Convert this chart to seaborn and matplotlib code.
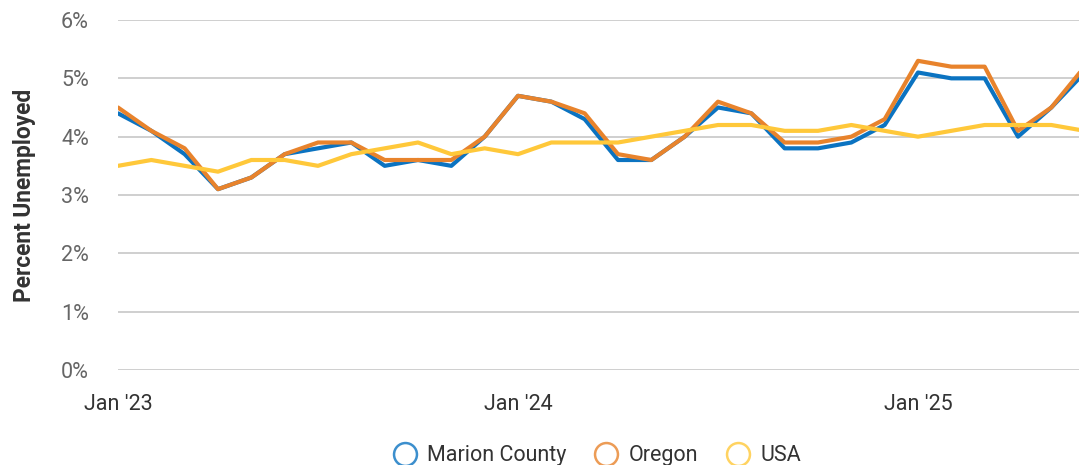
import matplotlib
matplotlib.use("Agg")
import matplotlib.pyplot as plt
import seaborn as sns
import pandas as pd
import numpy as np
from matplotlib.lines import Line2D

# ---- data ----
month_labels = ["Jan '23", "Jan '24", "Jan '25"]
month_tick_pos = [0, 12, 24]
months = list(range(30))

marion = [4.4, 4.1, 3.7, 3.1, 3.3, 3.7, 3.8, 3.9, 3.5, 3.6, 3.5, 4.0,
          4.7, 4.6, 4.3, 3.6, 3.6, 4.0, 4.5, 4.4, 3.8, 3.8, 3.9, 4.2,
          5.1, 5.0, 5.0, 4.0, 4.5, 5.1]
oregon = [4.5, 4.1, 3.8, 3.1, 3.3, 3.7, 3.9, 3.9, 3.6, 3.6, 3.6, 4.0,
          4.7, 4.6, 4.4, 3.7, 3.6, 4.0, 4.6, 4.4, 3.9, 3.9, 4.0, 4.3,
          5.3, 5.2, 5.2, 4.1, 4.5, 5.2]
usa = [3.5, 3.6, 3.5, 3.4, 3.6, 3.6, 3.5, 3.7, 3.8, 3.9, 3.7, 3.8,
       3.7, 3.9, 3.9, 3.9, 4.0, 4.1, 4.2, 4.2, 4.1, 4.1, 4.2, 4.1,
       4.0, 4.1, 4.2, 4.2, 4.2, 4.1]
series_names = ["Marion County", "Oregon", "USA"]
colors = ["#0b73c1", "#e8832c", "#ffc83a"]
y_ticks = [0, 1, 2, 3, 4, 5, 6]

df = pd.concat([
    pd.DataFrame({"month": months, "value": vals, "series": name})
    for name, vals in zip(series_names, [marion, oregon, usa])
], ignore_index=True)

sns.set_theme(style="white")
plt.rcParams["font.family"] = ["Roboto", "DejaVu Sans"]

fig = plt.figure(figsize=(10.79, 4.65), dpi=100)
ax = fig.add_axes([118 / 1079, 1 - 370 / 465, 1 - 118 / 1079, (370 - 20) / 465])

sns.lineplot(data=df, x="month", y="value", hue="series", hue_order=series_names,
             palette=colors, linewidth=3.0, ax=ax, legend=False, clip_on=True)

ax.set_xlim(0, (1079 - 118) / (400 / 12))
ax.set_ylim(0, 6)
ax.set_yticks(y_ticks)
ax.set_yticklabels([f"{t}%" for t in y_ticks])
ax.set_xticks(month_tick_pos)
ax.set_xticklabels(month_labels)
ax.grid(axis="y", color="#cccccc", linewidth=1.3)
ax.grid(axis="x", visible=False)
ax.set_axisbelow(True)
for s in ax.spines.values():
    s.set_visible(False)
ax.tick_params(axis="y", length=0, pad=21, labelsize=15.5, labelcolor="#666666")
ax.tick_params(axis="x", length=0, pad=17, labelsize=15.5, labelcolor="#333333")
ax.set_xlabel("")
ax.set_ylabel("Percent Unemployed", fontsize=16.4, fontweight="bold", color="#333333", labelpad=18)

handles = [Line2D([], [], linestyle="none", marker="o", markersize=16.5,
                  markerfacecolor="white", markeredgecolor=c, markeredgewidth=1.8, alpha=0.8)
           for c in colors]
leg = fig.legend(handles, series_names, loc="lower center", bbox_to_anchor=(0.553, -0.044),
                 ncol=3, frameon=False, fontsize=15.5, handletextpad=0.45, columnspacing=1.25,
                 handlelength=1.2)
for t in leg.get_texts():
    t.set_color("#333333")

fig.savefig("out.png", dpi=100)
